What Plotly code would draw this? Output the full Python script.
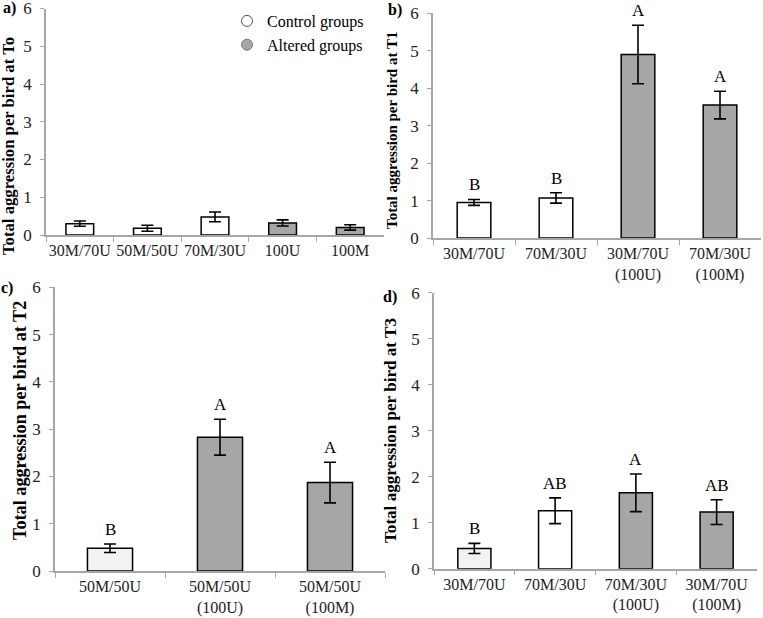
import plotly.graph_objects as go

# ---------------- data ----------------
a_cats = ["30M/70U", "50M/50U", "70M/30U", "100U", "100M"]
a_vals = [0.30, 0.18, 0.48, 0.32, 0.20]
a_err = [0.07, 0.08, 0.13, 0.08, 0.07]
a_groups = ["control", "control", "control", "altered", "altered"]

b_cats = ["30M/70U", "70M/30U", "30M/70U<br>(100U)", "70M/30U<br>(100M)"]
b_vals = [0.95, 1.07, 4.90, 3.55]
b_err = [0.08, 0.14, 0.78, 0.37]
b_groups = ["control", "control", "altered", "altered"]
b_letters = ["B", "B", "A", "A"]

c_cats = ["50M/50U", "50M/50U<br>(100U)", "50M/50U<br>(100M)"]
c_vals = [0.48, 2.83, 1.87]
c_err = [0.09, 0.38, 0.43]
c_groups = ["control_light", "altered", "altered"]
c_letters = ["B", "A", "A"]

d_cats = ["30M/70U", "70M/30U", "70M/30U<br>(100U)", "30M/70U<br>(100M)"]
d_vals = [0.44, 1.26, 1.65, 1.23]
d_err = [0.11, 0.28, 0.41, 0.27]
d_groups = ["control_light", "control", "altered", "altered"]
d_letters = ["B", "AB", "A", "AB"]

y_ticks = [0, 1, 2, 3, 4, 5, 6]
titles = ["Total aggression per bird at To", "Total aggression per bird at T1",
          "Total aggression per bird at T2", "Total aggression per bird at T3"]
panel_labels = ["a)", "b)", "c)", "d)"]
legend_names = ["Control groups", "Altered groups"]

# ---------------- style ----------------
W, H = 763, 618
FONT = "Liberation Serif"
GRAY = "#a6a6a6"
AXIS = "#a6a6a6"
fill = {"control": "white", "control_light": "#f2f2f2", "altered": GRAY}

def px(x):
    return x / W

def py(y):
    return 1 - y / H

panels = [
    dict(c=a_cats, v=a_vals, e=a_err, g=a_groups, l=None, x0=46, x1=384, ytop=8.5, ybot=235,
         xr=[-0.5, 4.5], title_x=9, title_y=146, title_size=16.7, lab=(9, 8)),
    dict(c=b_cats, v=b_vals, e=b_err, g=b_groups, l=b_letters, x0=433, x1=761, ytop=13.3, ybot=238,
         xr=[-0.5, 3.5], title_x=392, title_y=131, title_size=15, lab=(395, 10)),
    dict(c=c_cats, v=c_vals, e=c_err, g=c_groups, l=c_letters, x0=55, x1=385, ytop=287.3, ybot=571,
         xr=[-0.5, 2.5], title_x=20, title_y=421, title_size=18.2, lab=(7, 288)),
    dict(c=d_cats, v=d_vals, e=d_err, g=d_groups, l=d_letters, x0=434, x1=757, ytop=292.7, ybot=568.7,
         xr=[-0.5, 3.5], title_x=390, title_y=431, title_size=17.1, lab=(390, 297)),
]

fig = go.Figure()
annotations = []
layout = {}

for i, p in enumerate(panels):
    n = "" if i == 0 else str(i + 1)
    xa, ya = "x" + n, "y" + n
    fig.add_trace(go.Bar(
        x=p["c"], y=p["v"], xaxis=xa, yaxis=ya, width=0.41,
        marker=dict(color=[fill[g] for g in p["g"]], line=dict(color="black", width=1.5)),
        error_y=dict(type="data", array=p["e"], color="black", thickness=1.6, width=6),
        showlegend=False, hoverinfo="x+y",
    ))
    layout["xaxis" + n] = dict(
        domain=[px(p["x0"]), min(px(p["x1"]), 1.0)], anchor=ya, type="category",
        range=p["xr"], tickson="boundaries", ticks="outside", ticklen=5, tickcolor=AXIS,
        tickwidth=1.2, showline=True, linecolor=AXIS, linewidth=1.5, showgrid=False,
        zeroline=False, tickangle=0, ticklabeloverflow="allow",
        tickfont=dict(family=FONT, size=16, color="#222"), fixedrange=True,
    )
    layout["yaxis" + n] = dict(
        domain=[py(p["ybot"]), py(p["ytop"])], anchor=xa, range=[0, 6],
        tickvals=y_ticks, ticks="outside", ticklen=4, tickcolor=AXIS, tickwidth=1.2,
        showline=True, linecolor=AXIS, linewidth=1.5, showgrid=False, zeroline=False,
        ticklabeloverflow="allow",
        tickfont=dict(family=FONT, size=17, color="#222"), ticklabelstandoff=5,
    )
    annotations.append(dict(
        text="<b>" + titles[i] + "</b>", textangle=-90, xref="paper", yref="paper",
        x=px(p["title_x"]), y=py(p["title_y"]), xanchor="center", yanchor="middle",
        showarrow=False, font=dict(family=FONT, size=p["title_size"], color="black"),
    ))
    annotations.append(dict(
        text="<b>" + panel_labels[i] + "</b>", xref="paper", yref="paper",
        x=px(p["lab"][0]), y=py(p["lab"][1]), xanchor="center", yanchor="middle",
        showarrow=False, font=dict(family=FONT, size=16, color="black"),
    ))
    if p["l"]:
        for cat, v, e, letter in zip(p["c"], p["v"], p["e"], p["l"]):
            annotations.append(dict(
                text=letter, x=cat, y=v + e, xref=xa, yref=ya, xanchor="center",
                yanchor="bottom", yshift=3, showarrow=False,
                font=dict(family=FONT, size=17, color="black"),
            ))

# legend entries
fig.add_trace(go.Scatter(x=[None], y=[None], mode="markers", name=legend_names[0],
                         marker=dict(symbol="circle", size=11, color="white",
                                     line=dict(color="#555", width=1))))
fig.add_trace(go.Scatter(x=[None], y=[None], mode="markers", name=legend_names[1],
                         marker=dict(symbol="circle", size=11, color=GRAY,
                                     line=dict(color="#777", width=1))))

fig.update_layout(
    width=W, height=H, margin=dict(l=0, r=0, t=0, b=0, autoexpand=False),
    paper_bgcolor="white", plot_bgcolor="white",
    annotations=annotations,
    showlegend=True,
    legend=dict(x=px(227), y=py(4), xanchor="left", yanchor="top",
                font=dict(family=FONT, size=16, color="black"),
                bgcolor="rgba(0,0,0,0)", itemwidth=30, tracegroupgap=0),
    **layout,
)

fig.write_html("out.html", config={"displayModeBar": False},
               post_script="document.body.style.margin='0';document.body.style.overflow='hidden';")
